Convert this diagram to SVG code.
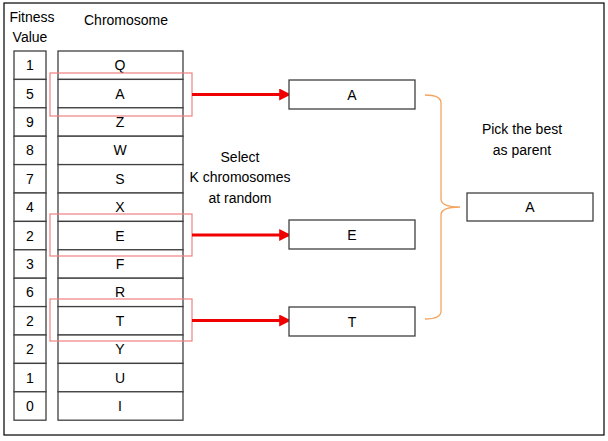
<svg xmlns="http://www.w3.org/2000/svg" width="608" height="441" viewBox="0 0 608 441">
<defs>
<style>
text{font-family:"Liberation Sans",Arial,sans-serif;font-size:14px;fill:#000;text-anchor:middle;dominant-baseline:central}
.cell{fill:#fff;stroke:#404040;stroke-width:1.3}
.sel{fill:none;stroke:#f08080;stroke-width:1.2}
.box{fill:#fff;stroke:#404040;stroke-width:1.3}
.arrow{stroke:#f00000;stroke-width:3;fill:none;marker-end:url(#ah)}
.brace{fill:none;stroke:#f4a460;stroke-width:1.3}
</style>
<marker id="ah" viewBox="0 0 10 10" refX="9" refY="5" markerWidth="4" markerHeight="4" orient="auto" markerUnits="strokeWidth">
<path d="M0,0 L10,5 L0,10 z" fill="#f00000"/>
</marker>
</defs>
<rect x="0" y="0" width="608" height="441" fill="#fff"/>
<rect x="4" y="3" width="600" height="432" fill="none" stroke="#000" stroke-width="1.2"/>
<g id="headers">
<text x="32" y="17">Fitness</text>
<text x="30" y="37">Value</text>
<text x="126" y="20">Chromosome</text>
</g>
<g id="table">
<g id="row1"><rect class="cell" x="14" y="51" width="32" height="28.4"/><text x="30" y="65.2">1</text><rect class="cell" x="58" y="51" width="125" height="28.4"/><text x="120" y="65.2">Q</text></g>
<g id="row2"><rect class="cell" x="14" y="79.4" width="32" height="28.4"/><text x="30" y="93.6">5</text><rect class="cell" x="58" y="79.4" width="125" height="28.4"/><text x="120" y="93.6">A</text></g>
<g id="row3"><rect class="cell" x="14" y="107.8" width="32" height="28.4"/><text x="30" y="122">9</text><rect class="cell" x="58" y="107.8" width="125" height="28.4"/><text x="120" y="122">Z</text></g>
<g id="row4"><rect class="cell" x="14" y="136.2" width="32" height="28.4"/><text x="30" y="150.4">8</text><rect class="cell" x="58" y="136.2" width="125" height="28.4"/><text x="120" y="150.4">W</text></g>
<g id="row5"><rect class="cell" x="14" y="164.6" width="32" height="28.4"/><text x="30" y="178.8">7</text><rect class="cell" x="58" y="164.6" width="125" height="28.4"/><text x="120" y="178.8">S</text></g>
<g id="row6"><rect class="cell" x="14" y="193" width="32" height="28.4"/><text x="30" y="207.2">4</text><rect class="cell" x="58" y="193" width="125" height="28.4"/><text x="120" y="207.2">X</text></g>
<g id="row7"><rect class="cell" x="14" y="221.4" width="32" height="28.4"/><text x="30" y="235.6">2</text><rect class="cell" x="58" y="221.4" width="125" height="28.4"/><text x="120" y="235.6">E</text></g>
<g id="row8"><rect class="cell" x="14" y="249.8" width="32" height="28.4"/><text x="30" y="264">3</text><rect class="cell" x="58" y="249.8" width="125" height="28.4"/><text x="120" y="264">F</text></g>
<g id="row9"><rect class="cell" x="14" y="278.2" width="32" height="28.4"/><text x="30" y="292.4">6</text><rect class="cell" x="58" y="278.2" width="125" height="28.4"/><text x="120" y="292.4">R</text></g>
<g id="row10"><rect class="cell" x="14" y="306.6" width="32" height="28.4"/><text x="30" y="320.8">2</text><rect class="cell" x="58" y="306.6" width="125" height="28.4"/><text x="120" y="320.8">T</text></g>
<g id="row11"><rect class="cell" x="14" y="335" width="32" height="28.4"/><text x="30" y="349.2">2</text><rect class="cell" x="58" y="335" width="125" height="28.4"/><text x="120" y="349.2">Y</text></g>
<g id="row12"><rect class="cell" x="14" y="363.4" width="32" height="28.4"/><text x="30" y="377.6">1</text><rect class="cell" x="58" y="363.4" width="125" height="28.4"/><text x="120" y="377.6">U</text></g>
<g id="row13"><rect class="cell" x="14" y="391.8" width="32" height="28.4"/><text x="30" y="406">0</text><rect class="cell" x="58" y="391.8" width="125" height="28.4"/><text x="120" y="406">I</text></g>
</g>
<g id="selections">
<rect class="sel" x="50" y="73" width="142" height="43"/>
<rect class="sel" x="50" y="214" width="142" height="42"/>
<rect class="sel" x="50" y="299" width="142" height="42"/>
</g>
<g id="connectors">
<line class="arrow" x1="192" y1="94.5" x2="290" y2="94.5"/>
<line class="arrow" x1="192" y1="235" x2="290" y2="235"/>
<line class="arrow" x1="192" y1="320.5" x2="290" y2="320.5"/>
<path class="brace" d="M425,95 Q441,95 441,103 L441,199 Q441,207 460,207 Q441,207 441,215 L441,311 Q441,319 425,319"/>
</g>
<g id="label-select">
<text x="240" y="157">Select</text>
<text x="240" y="177">K chromosomes</text>
<text x="240" y="198">at random</text>
</g>
<g id="nodeA"><rect class="box" x="289" y="80" width="126" height="29"/><text x="352" y="94.5">A</text></g>
<g id="nodeE"><rect class="box" x="289" y="220" width="126" height="29"/><text x="352" y="234.5">E</text></g>
<g id="nodeT"><rect class="box" x="289" y="307" width="126" height="29"/><text x="352" y="321.5">T</text></g>
<g id="label-pick">
<text x="522" y="129">Pick the best</text>
<text x="522" y="150">as parent</text>
</g>
<g id="parent"><rect class="box" x="467" y="193" width="126" height="28"/><text x="530" y="207">A</text></g>
</svg>
